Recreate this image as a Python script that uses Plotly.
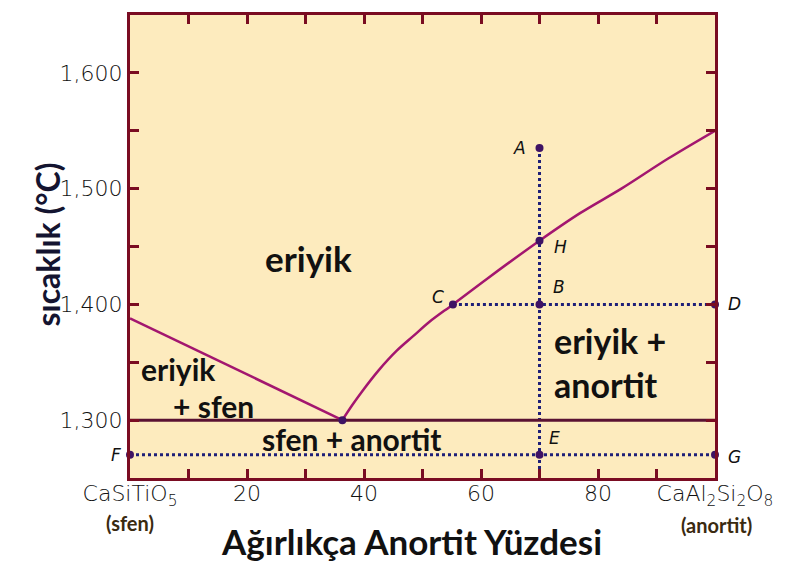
import plotly.graph_objects as go

# Composition (wt% anorthite) and temperature (°C) data for the sphene–anorthite system
liq_left_x = [0, 36.3]
liq_left_y = [1388, 1300]

liq_right_x = [36.3, 38, 39.7, 42.5, 45.6, 48.5, 51.2, 55.2, 61, 70, 77, 84, 92, 100]
liq_right_y = [1300, 1313, 1325, 1343, 1360, 1373, 1385, 1400, 1422, 1455, 1479, 1500, 1526, 1550]

solidus_x = [0, 100]
solidus_y = [1300, 1300]

point_names = ["A", "H", "B", "C", "D", "E", "F", "G"]
point_x = [70, 70, 70, 55.2, 100, 70, 0, 100]
point_y = [1535, 1455, 1400, 1400, 1400, 1270, 1270, 1270]

eutectic_x = [36.3]
eutectic_y = [1300]

x_tickvals = [0, 20, 40, 60, 80, 100]
x_ticktext = ["CaSiTiO<sub>5</sub>", "20", "40", "60", "80", "CaAl<sub>2</sub>Si<sub>2</sub>O<sub>8</sub>"]
y_tickvals = [1300, 1400, 1500, 1600]
y_ticktext = ["1,300", "1,400", "1,500", "1,600"]

MAROON = "#7A0C22"
LIQ = "#A3166F"
SOL = "#5A1232"
DOT = "#1E1F78"
MARK = "#3E1264"
BG = "#FDEBBE"

fig = go.Figure()

# dotted construction lines
fig.add_trace(go.Scatter(x=[70, 70], y=[1535, 1250], mode="lines",
                         line=dict(color=DOT, width=3, dash="dot"), hoverinfo="skip"))
fig.add_trace(go.Scatter(x=[55.2, 100], y=[1400, 1400], mode="lines",
                         line=dict(color=DOT, width=3, dash="dot"), hoverinfo="skip"))
fig.add_trace(go.Scatter(x=[0, 100], y=[1270, 1270], mode="lines",
                         line=dict(color=DOT, width=3, dash="dot"), hoverinfo="skip"))

# phase boundaries
fig.add_trace(go.Scatter(x=solidus_x, y=solidus_y, mode="lines",
                         line=dict(color=SOL, width=3)))
fig.add_trace(go.Scatter(x=liq_left_x, y=liq_left_y, mode="lines",
                         line=dict(color=LIQ, width=2.5)))
fig.add_trace(go.Scatter(x=liq_right_x, y=liq_right_y, mode="lines",
                         line=dict(color=LIQ, width=2.5, shape="spline", smoothing=0.9)))

# marked points
fig.add_trace(go.Scatter(x=point_x + eutectic_x, y=point_y + eutectic_y, mode="markers",
                         marker=dict(color=MARK, size=8), cliponaxis=False))

# point letters
offsets = {"A": (-20, 0), "H": (21, -6), "B": (19, 17), "C": (-15, 7),
           "D": (19, 0), "E": (15, 17), "F": (-14, 0), "G": (19, -2)}
for n, px, py in zip(point_names, point_x, point_y):
    dx, dy = offsets[n]
    fig.add_annotation(x=px, y=py, xref="x", yref="y", text=f"<i>{n}</i>",
                       showarrow=False, xshift=dx, yshift=dy,
                       font=dict(family="DejaVu Sans", size=17, color="#111", weight=300))

# region labels
lab = dict(family="Lato", color="#111")
fig.add_annotation(x=30.5, y=1440, text="<b>eriyik</b>", showarrow=False,
                   font=dict(size=35, **lab))
fig.add_annotation(x=72.2, y=1350, text="<b>eriyik +<br>anortit</b>", showarrow=False,
                   xanchor="left", align="left", font=dict(size=34, **lab))
fig.add_annotation(x=1.5, y=1344, text="<b>eriyik</b>", showarrow=False,
                   xanchor="left", font=dict(size=30, **lab))
fig.add_annotation(x=7, y=1312, text="<b>+ sfen</b>", showarrow=False,
                   xanchor="left", font=dict(size=30, **lab))
fig.add_annotation(x=38, y=1284, text="<b>sfen + anortit</b>", showarrow=False,
                   font=dict(size=30, **lab))

# compound names under the end ticks
fig.add_annotation(x=0, y=0, xref="x", yref="paper", yanchor="top", yshift=-31,
                   text="<b>(sfen)</b>", showarrow=False,
                   font=dict(family="Lato", size=20, color="#3a2a10"))
fig.add_annotation(x=100, y=0, xref="x", yref="paper", yanchor="top", yshift=-33, xshift=1,
                   text="<b>(anortit)</b>", showarrow=False,
                   font=dict(family="Lato", size=20, color="#3a2a10"))

# axis titles
fig.add_annotation(xref="paper", yref="paper", x=0.482, y=-0.135, yanchor="middle",
                   text="<b>Ağırlıkça Anortit Yüzdesi</b>", showarrow=False,
                   font=dict(family="Lato", size=35, color="#111"))
fig.add_annotation(xref="paper", yref="paper", x=-0.178, y=0.505, textangle=-90,
                   text="<b>sıcaklık (°C)</b>", showarrow=False,
                   font=dict(family="Lato", size=32, color="#141430"))

axis_common = dict(showgrid=False, zeroline=False, showline=True, linecolor=MAROON,
                   linewidth=3, mirror="allticks", ticks="inside", ticklen=9,
                   tickwidth=3, tickcolor=MAROON,
                   tickfont=dict(family="DejaVu Sans", size=22, color="#111", weight=300))

fig.update_xaxes(range=[0, 100], tickmode="array", tickvals=x_tickvals, ticktext=x_ticktext,
                 ticklabelstandoff=-6,
                 minor=dict(dtick=10, ticks="inside", ticklen=9, tickwidth=3, tickcolor=MAROON),
                 **axis_common)
fig.update_yaxes(range=[1250, 1650], tickmode="array", tickvals=y_tickvals, ticktext=y_ticktext,
                 minor=dict(dtick=50, ticks="inside", ticklen=9, tickwidth=3, tickcolor=MAROON),
                 **axis_common)

fig.update_layout(width=786, height=561, showlegend=False,
                  margin=dict(l=130, r=71, t=13, b=83),
                  plot_bgcolor=BG, paper_bgcolor="white")

fig.write_html("out.html")
